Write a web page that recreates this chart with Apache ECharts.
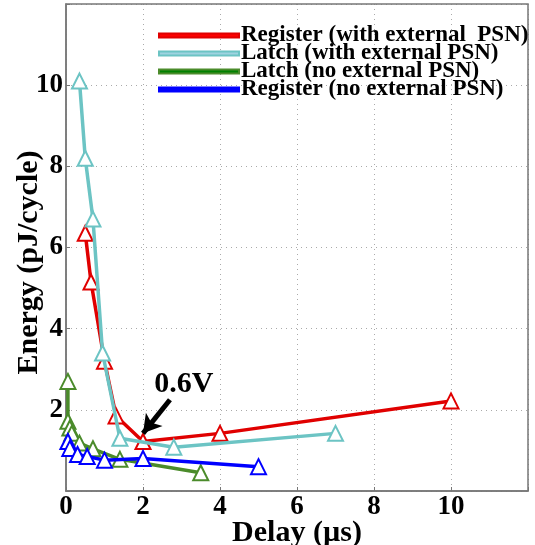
<!DOCTYPE html>
<html><head><meta charset="utf-8">
<script src="https://cdn.jsdelivr.net/npm/echarts@6/dist/echarts.min.js"></script>
<style>html,body{margin:0;padding:0;background:#fff}#c{width:535px;height:545px}</style>
</head><body><div id="c"></div>
<script>
var seriesNames = ['Register (with external  PSN)', 'Latch (with external PSN)', 'Latch (no external PSN)', 'Register (no external PSN)'];
var regWith = [[0.5,6.35],[0.65,5.15],[1.0,3.2],[1.3,1.85],[2.0,1.22],[4.0,1.42],[10.0,2.22]];
var latchWith = [[0.35,10.1],[0.5,8.2],[0.7,6.7],[0.95,3.4],[1.4,1.3],[2.8,1.08],[7.0,1.42]];
var latchNo = [[0.05,2.7],[0.05,1.72],[0.1,1.55],[0.15,1.42],[0.35,1.18],[0.7,1.04],[1.4,0.78],[3.5,0.45]];
var regNo = [[0.05,1.22],[0.1,1.05],[0.3,0.9],[0.55,0.85],[1.0,0.76],[2.0,0.8],[5.0,0.6]];
var xTicks = [0,2,4,6,8,10];
var yTicks = [2,4,6,8,10];
var annotText = '0.6V';
var annotPos = [3.06, 2.62];
var arrowFrom = [2.7, 2.25];
var arrowTo = [2.0, 1.42];

var plotColors = ['#e00000','#6cc4c4','#4b8b2b','#0000ff'];
var legendColors = ['#ff0000','#9fd3e0','#008000','#0000ff'];
var font = 'Liberation Serif';
var datas = [regWith, latchWith, latchNo, regNo];
var order = [2,3,1,0];
var series = order.map(function(i){
  var s = {
    name: seriesNames[i], type:'line', data: datas[i],
    symbol:'emptyTriangle', symbolSize:15, showAllSymbol:true,
    lineStyle:{width:3.5, color:plotColors[i]},
    itemStyle:{color:plotColors[i], borderWidth:2.5, borderColor:plotColors[i]},
    z: 2+i, animation:false
  };
  if (i===0) {
    s.markLine = {
      silent:true, symbol:['none','arrow'], symbolSize:[16,18],
      lineStyle:{color:'#000', width:5, type:'solid'}, label:{show:false},
      data:[[{coord:arrowFrom},{coord:arrowTo}]]
    };
    s.markPoint = {
      silent:true, symbol:'circle', symbolSize:1, itemStyle:{color:'transparent'},
      label:{show:true, formatter:annotText, color:'#000', fontFamily:font, fontWeight:'bold', fontSize:30, position:'inside'},
      data:[{coord:annotPos}]
    };
  }
  return s;
});
var chart = echarts.init(document.getElementById('c'));
chart.setOption({
  animation:false,
  grid:{left:66, right:7, top:4, bottom:54, show:false, outerBoundsMode:'none', containLabel:false},
  legend:{
    orient:'vertical', left:153, top:19, itemWidth:80, itemHeight:4, itemGap:-5,
    icon:'rect',
    textStyle:{fontFamily:font, fontWeight:'bold', fontSize:23, color:'#000', lineHeight:18, padding:[0,0,0,-3]},
    data: seriesNames.map(function(n,i){return {name:n, itemStyle:{color:legendColors[i]}};})
  },
  xAxis:{
    type:'value', min:0, max:12, interval:2,
    name:'Delay (µs)', nameLocation:'middle', nameGap:27, nameMoveOverlap:false,
    nameTextStyle:{fontFamily:font, fontWeight:'bold', fontSize:30, color:'#000'},
    axisLine:{onZero:false, lineStyle:{color:'#777', width:1.5}},
    axisTick:{inside:true, length:4, lineStyle:{color:'#777'}},
    axisLabel:{fontFamily:font, fontWeight:'bold', fontSize:27, color:'#000', margin:3,
      formatter:function(v){return xTicks.indexOf(v)>=0 ? String(v) : '';}},
    splitLine:{show:true, lineStyle:{color:'#aaa', type:[1,4], width:1}}
  },
  yAxis:{
    type:'value', min:0, max:12, interval:2,
    name:'Energy (pJ/cycle)', nameLocation:'middle', nameGap:22, nameMoveOverlap:false,
    nameTextStyle:{fontFamily:font, fontWeight:'bold', fontSize:30, color:'#000', padding:[0,30,0,0]},
    axisLine:{onZero:false, lineStyle:{color:'#777', width:1.5}},
    axisTick:{inside:true, length:4, lineStyle:{color:'#777'}},
    axisLabel:{fontFamily:font, fontWeight:'bold', fontSize:27, color:'#000', margin:3,
      formatter:function(v){return yTicks.indexOf(v)>=0 ? String(v) : '';}},
    splitLine:{show:true, lineStyle:{color:'#aaa', type:[1,4], width:1}}
  },
  series: series,
  graphic:[{type:'rect', shape:{x:66, y:4, width:462, height:487}, style:{fill:'none', stroke:'#777', lineWidth:1.5}, silent:true, z:1}]
});
</script></body></html>
